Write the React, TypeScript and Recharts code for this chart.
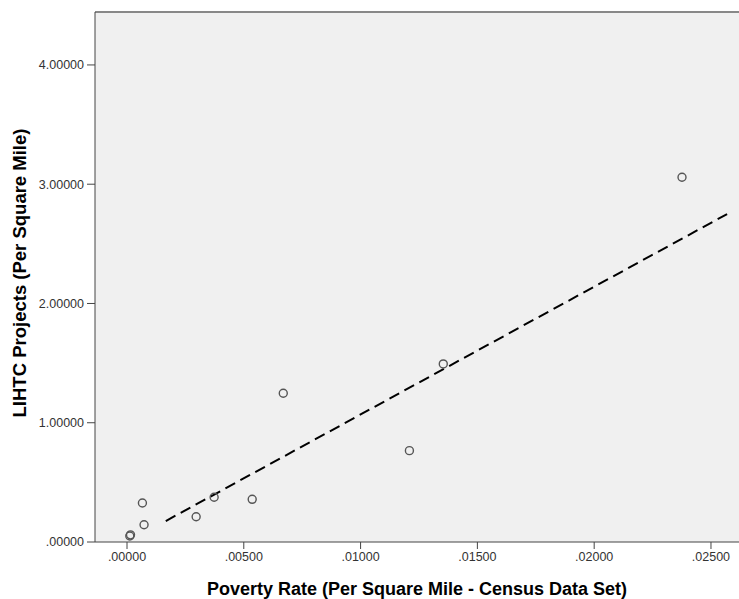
import { ScatterChart, Scatter, XAxis, YAxis, CartesianGrid, ReferenceLine } from 'recharts';

const povertyRate = [0.00012, 0.00015, 0.00066, 0.00073, 0.00296, 0.00373, 0.00536, 0.00669, 0.01209, 0.01354, 0.02376];
const lihtcProjects = [0.05, 0.06, 0.327, 0.145, 0.212, 0.375, 0.358, 1.247, 0.766, 1.493, 3.058];

// fit line end points
const fitPovertyRate = [0.00166, 0.02569];
const fitLihtc = [0.176, 2.75];

const xTicks = [0, 0.005, 0.01, 0.015, 0.02, 0.025];
const yTicks = [0, 1, 2, 3, 4];

const X_DOMAIN: [number, number] = [-0.00137, 0.0262];
const Y_DOMAIN: [number, number] = [0, 4.444];

const points = povertyRate.map((x, i) => ({ x, y: lihtcProjects[i] }));
const fitLine = fitPovertyRate.map((x, i) => ({ x, y: fitLihtc[i] }));

const fmt = (v: number) => {
  const s = v.toFixed(5);
  return s.startsWith('0') ? s.slice(1) : s;
};

const FONT = '"Liberation Sans", Arial, sans-serif';

const Ring = (props: { cx?: number; cy?: number }) => {
  const { cx, cy } = props;
  if (cx == null || cy == null) return <g />;
  return <circle cx={cx} cy={cy} r={4} fill="none" stroke="#555" strokeWidth={1.4} />;
};

const YTitle = (props: { viewBox?: { x: number; y: number; width: number; height: number } }) => {
  const vb = props.viewBox;
  if (!vb) return null;
  const x = 19;
  const y = vb.y + vb.height / 2 - 4;
  return (
    <text
      x={x}
      y={y}
      transform={`rotate(-90, ${x}, ${y})`}
      textAnchor="middle"
      dominantBaseline="central"
      fill="#000"
      fontSize={18.5}
      fontWeight="bold"
      fontFamily={FONT}
    >
      LIHTC Projects (Per Square Mile)
    </text>
  );
};

export default function App() {
  return (
    <div style={{ position: 'absolute', left: 0, top: 0, background: '#fff' }}>
      <ScatterChart width={739} height={599} margin={{ top: 12, right: 0, bottom: 0, left: 0 }}>
        <CartesianGrid fill="#f0f0f0" horizontal={false} vertical={false} />
        <XAxis
          type="number"
          dataKey="x"
          domain={X_DOMAIN}
          ticks={xTicks}
          allowDataOverflow
          height={57}
          tickFormatter={fmt}
          tickSize={7}
          tickMargin={3}
          stroke="#444"
          tick={{ fill: '#333', fontSize: 12.5, fontFamily: FONT }}
          label={{
            value: 'Poverty Rate (Per Square Mile - Census Data Set)',
            position: 'insideBottom',
            offset: 4,
            fill: '#000',
            fontSize: 18,
            fontWeight: 'bold',
            fontFamily: FONT,
          }}
        />
        <YAxis
          type="number"
          dataKey="y"
          domain={Y_DOMAIN}
          ticks={yTicks}
          allowDataOverflow
          width={95}
          tickFormatter={fmt}
          tickSize={8}
          tickMargin={3}
          stroke="#444"
          tick={{ fill: '#333', fontSize: 12.5, fontFamily: FONT }}
          label={<YTitle />}
        />
        <ReferenceLine y={Y_DOMAIN[1]} stroke="#888" strokeWidth={2} ifOverflow="visible" />
        <Scatter
          data={fitLine}
          line={{ stroke: '#000', strokeWidth: 2, strokeDasharray: '11 6' }}
          lineType="joint"
          shape={() => <g />}
          isAnimationActive={false}
        />
        <Scatter data={points} shape={<Ring />} isAnimationActive={false} />
      </ScatterChart>
    </div>
  );
}
